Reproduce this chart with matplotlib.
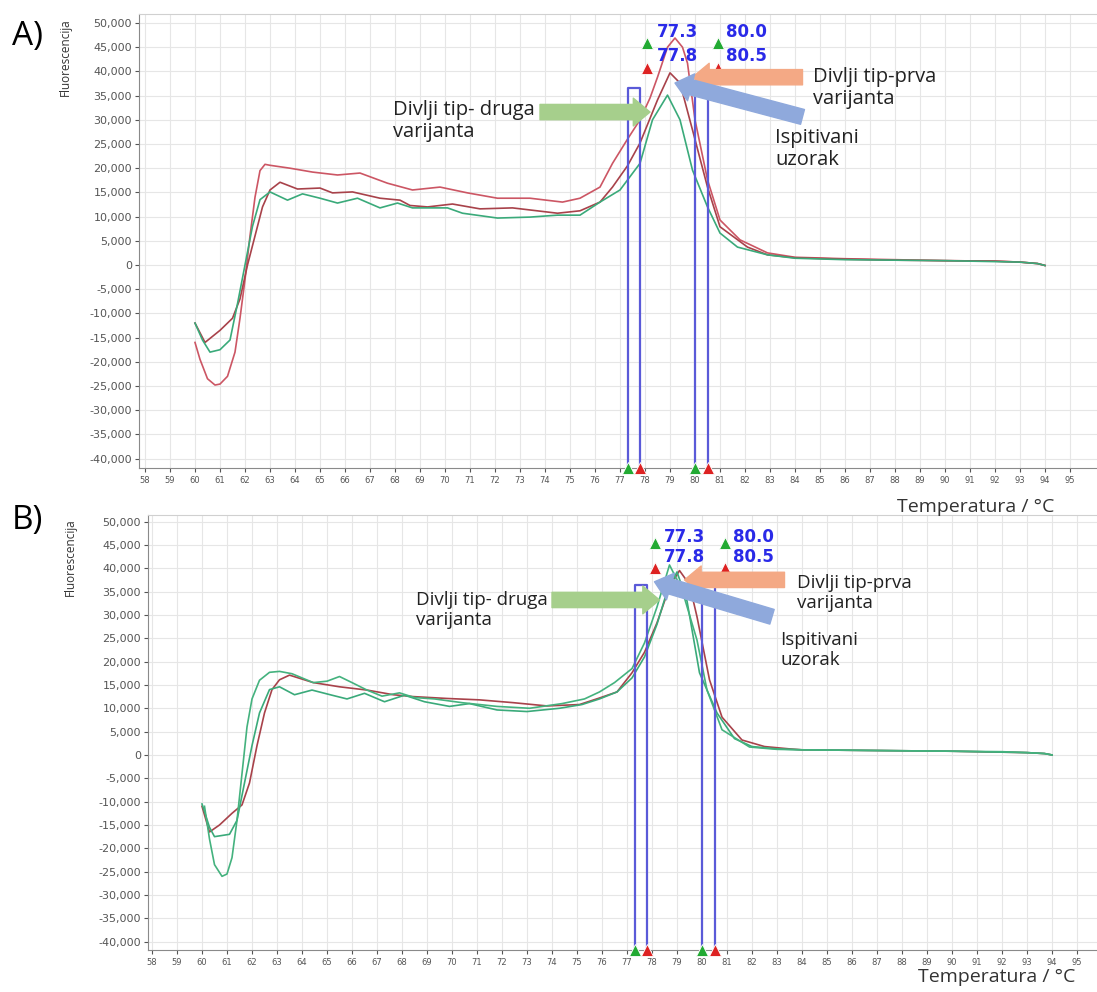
import matplotlib
matplotlib.use("Agg")
import matplotlib.pyplot as plt
from matplotlib.ticker import FuncFormatter, MultipleLocator, FixedLocator

# ---- panel A curves (temperature, fluorescence) ----
a_red1_t = [60.0, 60.2, 60.5, 60.8, 61.0, 61.3, 61.6, 61.8, 62.0, 62.2, 62.4, 62.6, 62.8, 63.0,
            63.8, 64.7, 65.7, 66.6, 67.7, 68.7, 69.8, 70.9, 72.1, 73.4, 74.7, 75.4, 76.2, 76.7,
            77.3, 77.8, 78.2, 78.5, 78.9, 79.2, 79.5, 79.7, 80.0, 80.5, 81.0, 81.8, 82.9, 84.0,
            86.0, 88.0, 90.0, 92.0, 93.0, 93.7, 94.0]
a_red1_v = [-16000, -19500, -23500, -24800, -24600, -23000, -18000, -11000, -3000, 6000, 14000,
            19500, 20800, 20600, 20000, 19200, 18600, 19000, 16900, 15500, 16100, 14900, 13800,
            13800, 13000, 13800, 16100, 21000, 26000, 30000, 34500, 38800, 45000, 46900, 45000,
            41700, 30000, 17600, 9300, 5200, 2500, 1600, 1300, 1100, 900, 800, 600, 300, -100]

a_red2_t = [60.0, 60.4, 61.0, 61.5, 61.8, 62.1, 62.4, 62.7, 63.0, 63.4, 64.1, 65.0, 65.5, 66.3,
            67.4, 68.2, 68.6, 69.3, 70.3, 71.4, 72.7, 74.5, 75.4, 76.2, 76.7, 77.3, 77.8, 78.5,
            79.0, 79.4, 79.9, 80.5, 81.0, 82.1, 82.9, 84.0, 86.0, 88.0, 90.0, 92.0, 93.0, 93.7, 94.0]
a_red2_v = [-12000, -16000, -13500, -11000, -7000, 0, 6000, 12000, 15500, 17100, 15700, 15900,
            14900, 15100, 13800, 13400, 12300, 12000, 12600, 11600, 11800, 10700, 11200, 13000,
            16100, 20500, 25200, 34100, 39700, 37600, 27900, 16100, 7900, 3700, 2100, 1500, 1200,
            1000, 900, 800, 600, 300, -100]

a_grn_t = [60.0, 60.3, 60.6, 61.0, 61.4, 61.7, 62.0, 62.3, 62.6, 63.0, 63.7, 64.3, 65.0, 65.7,
           66.5, 67.4, 68.1, 68.7, 70.1, 70.7, 72.1, 73.4, 74.5, 75.4, 76.2, 77.0, 77.8, 78.3,
           78.9, 79.4, 79.9, 80.5, 81.0, 81.7, 82.9, 84.0, 86.0, 88.0, 90.0, 92.0, 93.0, 93.7, 94.0]
a_grn_v = [-12000, -15500, -18000, -17500, -15500, -8000, 0, 8000, 13500, 15100, 13400, 14700,
           13800, 12800, 13800, 11800, 12800, 11800, 11800, 10700, 9700, 9900, 10300, 10300,
           13000, 15500, 21000, 30000, 35100, 30000, 19600, 12000, 6600, 3700, 2100, 1400, 1100,
           1000, 900, 700, 600, 300, -100]

# ---- panel B curves ----
b_grn1_t = [60.1, 60.3, 60.5, 60.8, 61.0, 61.2, 61.4, 61.6, 61.8, 62.0, 62.3, 62.7, 63.1, 63.6,
            64.45, 65.0, 65.5, 66.0, 66.6, 67.2, 67.9, 68.5, 69.3, 70.4, 71.8, 73.1, 74.4, 75.3,
            75.9, 76.5, 77.2, 77.7, 78.2, 78.7, 79.2, 79.8, 80.2, 80.8, 81.9, 83.0, 84.0, 86.0,
            88.0, 90.0, 92.0, 93.0, 93.7, 94.0]
b_grn1_v = [-11000, -18000, -23500, -26000, -25500, -22000, -14000, -4000, 6000, 12000, 16000,
            17700, 17900, 17400, 15500, 15800, 16800, 15500, 13900, 12600, 13300, 12300, 12000,
            11200, 10400, 10000, 11000, 12000, 13500, 15500, 18500, 24000, 31700, 40700, 35400,
            24600, 13900, 5400, 1700, 1200, 1100, 1000, 900, 800, 700, 500, 300, 0]

b_grn2_t = [60.0, 60.3, 60.5, 61.1, 61.4, 61.7, 62.0, 62.3, 62.7, 63.1, 63.7, 64.4, 65.2, 65.8,
            66.5, 67.3, 68.1, 68.9, 69.9, 70.7, 71.8, 73.0, 74.3, 75.2, 75.9, 76.6, 77.2, 77.7,
            78.2, 78.6, 79.0, 79.4, 79.9, 80.6, 81.3, 82.0, 83.0, 84.0, 86.0, 88.0, 90.0, 92.0,
            93.0, 93.7, 94.0]
b_grn2_v = [-10500, -15500, -17500, -17000, -14000, -6000, 2000, 9000, 14000, 14600, 12900, 13900,
            12800, 12000, 13200, 11400, 12800, 11400, 10400, 11000, 9640, 9300, 10000, 10800,
            12000, 13500, 16500, 21000, 28000, 35000, 39200, 33000, 17600, 9000, 3500, 1800,
            1300, 1100, 1000, 900, 800, 600, 500, 300, 0]

b_red_t = [60.0, 60.3, 60.7, 61.2, 61.6, 61.9, 62.2, 62.5, 62.8, 63.1, 63.5, 64.45, 65.5, 66.6,
           67.65, 68.45, 69.8, 71.1, 72.45, 73.8, 75.1, 75.9, 76.6, 77.2, 77.7, 78.2, 78.7, 79.1,
           79.5, 79.8, 80.3, 80.8, 81.6, 82.5, 83.5, 84.0, 86.0, 88.0, 90.0, 92.0, 93.0, 93.7, 94.0]
b_red_v = [-11000, -16500, -15000, -12500, -10700, -6000, 2000, 9000, 14000, 16100, 17100, 15500,
           14600, 13900, 12900, 12500, 12100, 11800, 11200, 10500, 10800, 12200, 13500, 17600,
           22000, 28300, 36000, 39500, 36500, 29600, 16100, 8100, 3200, 1800, 1300, 1100, 1000,
           900, 800, 600, 500, 300, 0]

# melting peak bins and labels
bin_lo = [77.3, 80.0]
bin_hi = [77.8, 80.5]
bin_top = 36500
tm_green = ["77.3", "80.0"]
tm_red = ["77.8", "80.5"]
marker_t = [78.1, 80.9]
x_ticks = list(range(58, 96))

C_RED1 = "#cc5664"
C_RED2 = "#a8424a"
C_GRN = "#3aaa7a"
C_BOX = "#5a5ad8"
C_TMLBL = "#2a2ae8"

fig = plt.figure(figsize=(10.97, 9.92), dpi=100)

def fmt(v, pos):
    return "{:,}".format(int(v))

def panel(rect, xlim, ylim, curves, lbl_y, tri_y, ann, fs):
    ax = fig.add_axes(rect)
    ax.set_xlim(*xlim)
    ax.set_ylim(*ylim)
    ax.xaxis.set_major_locator(FixedLocator(x_ticks))
    ax.yaxis.set_major_locator(MultipleLocator(5000))
    ax.yaxis.set_major_formatter(FuncFormatter(fmt))
    ax.grid(True, color="#e6e6e6", lw=0.8)
    ax.set_axisbelow(True)
    for s in ["left", "bottom"]:
        ax.spines[s].set_color("#8a8a8a")
    ax.spines["top"].set_color("#d0d0d0")
    ax.spines["right"].set_visible(False)
    ax.tick_params(axis="y", labelsize=8, colors="#555555", length=3, pad=2)
    ax.tick_params(axis="x", labelsize=6, colors="#555555", length=3, pad=3)

    for t, v, c in curves:
        ax.plot(t, v, color=c, lw=1.2)

    yb = ylim[0]
    for lo, hi in zip(bin_lo, bin_hi):
        ax.plot([lo, lo, hi, hi], [yb, bin_top, bin_top, yb], color=C_BOX, lw=1.6, clip_on=False)

    mk = dict(ms=8, mec="white", mew=0.6, zorder=5)
    ax.plot(bin_lo, [yb] * 2, "^", color="#22aa33", clip_on=False, **mk)
    ax.plot(bin_hi, [yb] * 2, "^", color="#dd2222", clip_on=False, **mk)
    ax.plot(marker_t, [tri_y[0]] * 2, "^", color="#22aa33", **mk)
    ax.plot(marker_t, [tri_y[1]] * 2, "^", color="#dd2222", **mk)
    for i, x in enumerate([79.3, 82.05]):
        ax.text(x, lbl_y[0], tm_green[i], color=C_TMLBL, fontsize=12, fontweight="bold",
                ha="center", va="center")
        ax.text(x, lbl_y[1], tm_red[i], color=C_TMLBL, fontsize=12, fontweight="bold",
                ha="center", va="center")

    # arrows + annotation texts
    (g_from, g_to, g_txt), (o_from, o_to, o_txt), (b_from, b_to, b_txt) = ann
    for p0, p1, col in [(g_from, g_to, "#a6cf8c"), (o_from, o_to, "#f4a985"), (b_from, b_to, "#8fa9dc")]:
        ax.annotate("", xy=p1, xytext=p0,
                    arrowprops=dict(arrowstyle="simple,head_width=1.0,head_length=0.6,tail_width=0.55",
                                    mutation_scale=20, fc=col, ec=col, shrinkA=0, shrinkB=0), zorder=6)
    tkw = dict(fontsize=fs, family="Open Sans", color="#222222", va="center", linespacing=1.15)
    ax.text(g_txt[0], g_txt[1], "Divlji tip- druga\nvarijanta", ha="right", multialignment="left", **tkw)
    ax.text(o_txt[0], o_txt[1], "Divlji tip-prva\nvarijanta", ha="left", **tkw)
    ax.text(b_txt[0], b_txt[1], "Ispitivani\nuzorak", ha="left", **tkw)
    return ax

panel([139 / 1097, 1 - 468 / 992, 1 - 139 / 1097, 454 / 992], (57.76, 96.08), (-41940, 51860),
      [(a_red1_t, a_red1_v, C_RED1), (a_red2_t, a_red2_v, C_RED2), (a_grn_t, a_grn_v, C_GRN)],
      (48100, 43200), (45900, 40700),
      [((73.8, 31600), (78.2, 31600), (73.6, 29800)),
       ((84.3, 38800), (79.9, 38800), (84.72, 36600)),
       ((84.3, 30600), (79.2, 37600), (83.2, 23900))], 14.5)

panel([148 / 1097, 1 - 950 / 992, 1 - 148 / 1097, 435 / 992], (57.84, 95.8), (-41780, 51400),
      [(b_red_t, b_red_v, C_RED2), (b_grn2_t, b_grn2_v, C_GRN), (b_grn1_t, b_grn1_v, "#44b27e")],
      (46700, 42400), (45400, 40100),
      [((74.0, 33200), (78.3, 33200), (73.85, 31100)),
       ((83.3, 37500), (79.3, 37500), (83.8, 34700)),
       ((82.8, 29600), (78.1, 37100), (83.12, 22500))], 13.5)

fig.text(12 / 1097, 1 - 37 / 992, "A)", fontsize=24, family="Open Sans", va="center", ha="left")
fig.text(12 / 1097, 1 - 521 / 992, "B)", fontsize=24, family="Open Sans", va="center", ha="left")
fig.text(65 / 1097, 1 - 57 / 992, "Fluorescencija", fontsize=8.5, family="Open Sans", rotation=90,
         va="center", ha="center", color="#333333")
fig.text(70 / 1097, 1 - 557 / 992, "Fluorescencija", fontsize=8.5, family="Open Sans", rotation=90,
         va="center", ha="center", color="#333333")
fig.text(976 / 1097, 1 - 507 / 992, "Temperatura / °C", fontsize=14, family="Open Sans",
         va="center", ha="center", color="#333333")
fig.text(997 / 1097, 1 - 977 / 992, "Temperatura / °C", fontsize=14, family="Open Sans",
         va="center", ha="center", color="#333333")

fig.savefig("out.png", dpi=100)
